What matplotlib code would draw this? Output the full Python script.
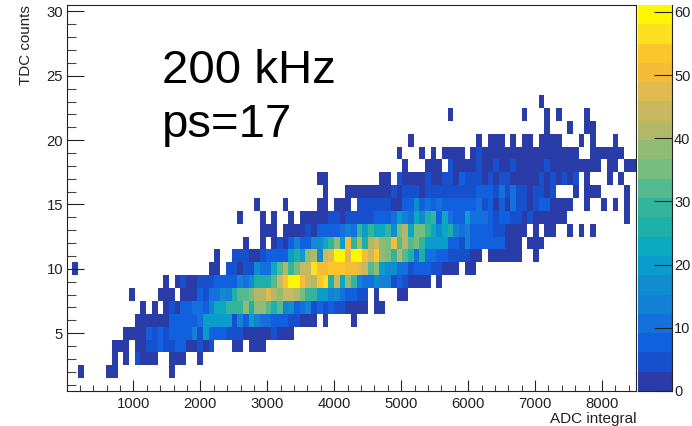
import numpy as np
import matplotlib
matplotlib.use("Agg")
import matplotlib.pyplot as plt
from matplotlib.colors import ListedColormap, BoundaryNorm
from matplotlib.ticker import MultipleLocator

plt.rcParams['font.family'] = ['Liberation Sans', 'DejaVu Sans']

# Histogram settings
n_x_bins = 100
x_min, x_max = 0, 8500
y_min, y_max = 0.5, 30.5
z_max = 61.1
n_levels = 20

# Counts per TDC row: (first ADC bin, counts in consecutive bins)
row_2 = [(2, [1]), (7, [1, 1]), (18, [1])]
row_3 = [(8, [1, 0, 1, 0, 6, 2, 2, 2]), (18, [1, 1, 1, 0, 0, 1])]
row_4 = [(8, [1, 1, 1, 0, 2, 2, 5, 5, 7, 5, 5, 8, 7, 2, 2, 5, 2, 5]), (29, [2, 2, 0, 2, 2, 2])]
row_5 = [(10, [2, 2, 2, 2, 7, 5, 7, 5, 7, 7, 7, 7, 13, 6, 19, 9, 9, 7, 5, 5, 5,
               2, 2, 2, 2, 2, 4, 2, 2, 2])]
row_6 = [(12, [2, 2, 2, 2, 2, 2, 9, 9, 7, 9, 9, 11, 19, 19, 19, 20, 20, 6, 14, 8, 20, 15,
               10, 10, 7, 7, 7, 5, 5, 2, 2, 2, 0, 2]), (50, [2])]
row_7 = [(13, [1, 0, 1, 0, 1, 4, 2, 7, 9, 11, 11, 9, 14, 24, 24, 29, 29, 29, 37, 26, 37, 37,
               33, 26, 33, 13, 17, 9, 11, 14, 5, 7, 5, 7, 4, 5, 2, 2, 2, 2, 0, 2, 2])]
row_8 = [(11, [1]), (16, [2, 2, 2, 0, 2, 2, 2, 7, 4, 10, 10, 17, 14, 25, 33, 33, 34, 42, 42, 47,
                          42, 38, 43, 43, 42, 34, 30, 29, 19, 19, 14, 18, 11, 7, 7, 5, 5, 0, 2]),
         (58, [2, 2])]
row_9 = [(17, [1, 0, 2, 4, 2, 2, 4, 4, 4, 8, 7, 7, 8, 13, 10, 17, 25, 25, 25, 32, 43, 52, 60,
               60, 50, 44, 42, 53, 56, 26, 45, 24, 38, 28, 14, 11, 11, 17, 15, 13, 6, 7, 4,
               2, 2, 2, 2, 0, 2])]
row_10 = [(1, [2]), (25, [2, 2, 0, 4, 4, 2, 6, 5, 18, 12, 12, 24, 33, 40, 28, 36, 44, 44, 58, 50,
                          50, 53, 54, 54, 50, 50, 46, 44, 33, 39, 19, 17, 17, 12, 12, 5, 8, 7, 7,
                          5, 5, 2, 2, 2, 0, 2, 2])]
row_11 = [(26, [2, 0, 0, 4, 4, 4, 2, 2, 4, 9, 8, 9, 8, 21, 27, 19, 37, 42, 18, 44, 46, 59, 59, 47,
                61, 61, 50, 43, 52, 39, 34, 30, 40, 33, 27, 12, 27, 12, 10, 8, 8, 5, 5, 5, 5,
                2, 2, 0, 2, 2, 2, 2, 2, 2]), (82, [2])]
row_12 = [(31, [2, 0, 0, 2, 0, 2, 4, 2, 8, 14, 7, 9, 17, 17, 22, 28, 37, 21, 49, 28, 40, 27, 41,
                45, 38, 36, 49, 33, 42, 31, 35, 29, 21, 21, 21, 20, 8, 8, 5, 14, 7, 7, 7, 7, 7, 7,
                2, 2, 2]), (81, [2, 2, 2])]
row_13 = [(34, [2, 2, 2, 0, 2, 2, 3, 2, 5, 2, 7, 7, 8, 7, 12, 13, 12, 28, 20, 30, 22, 22, 30, 17,
                34, 42, 24, 35, 35, 30, 22, 17, 22, 25, 15, 12, 14, 7, 7, 7, 7, 4, 4, 2, 2, 2, 2,
                0, 2, 0, 2, 2, 0, 0, 2, 0, 2, 0, 2])]
row_14 = [(30, [2]), (34, [2, 0, 2, 0, 0, 2, 0, 2, 2, 2, 2, 2, 4, 4, 2, 5, 4, 4, 6, 6, 9, 9, 9, 11,
                           21, 14, 11, 22, 18, 25, 30, 7, 24, 12, 9, 9, 20, 10, 11, 11, 7, 4, 7, 7,
                           5, 5, 2, 4, 2, 2, 2, 2, 2, 2]), (98, [2])]
row_15 = [(33, [1]), (38, [1]), (44, [2, 2, 0, 2, 2, 2, 0, 4, 4, 4, 4, 6, 6, 2, 2, 9, 9, 16, 7, 10,
                                      9, 11, 7, 9, 7, 9, 7, 7, 12, 5, 7, 2, 9, 2, 10, 5, 5, 2, 5,
                                      7, 7, 2, 2, 2, 2]), (91, [2]), (94, [2]), (96, [2]), (98, [2])]
row_16 = [(45, [2]), (49, [2, 2, 2, 2, 2, 2, 2, 2, 4, 2, 4, 4, 4, 2, 6, 4, 4, 6, 6, 6, 6, 6, 6, 9,
                           9, 9, 5, 10, 5, 10, 5, 5, 2, 4, 4, 2, 4]), (89, [2, 0, 2, 2, 2]), (98, [2])]
row_17 = [(44, [2, 2]), (55, [2, 2, 0, 4, 2, 2, 2, 2, 4, 2, 2, 4, 4, 2, 8, 4, 5, 5, 2, 5, 2, 4, 4,
                              2, 2, 2, 2, 2, 4, 2, 5, 2, 4, 2, 5, 0, 2]), (95, [2, 0, 2])]
row_18 = [(59, [2]), (63, [2, 2, 2, 0, 4, 2, 2, 2, 2, 4, 2, 2, 4, 2, 2, 4, 2, 2, 2, 2, 2, 4,
                           2, 2, 2, 2, 2, 2, 2, 2, 2]), (95, [2, 2, 0, 2, 2])]
row_19 = [(58, [2]), (62, [2, 0, 2, 0, 2, 2, 2, 2, 0, 2, 4] + [2] * 17), (92, [2, 2, 2, 2, 2, 2])]
row_20 = [(60, [2]), (72, [2, 0, 2, 2, 2, 0, 2, 0, 2, 2, 0, 2, 2, 2, 2]), (90, [2, 0, 2]), (96, [2])]
row_21 = [(84, [2]), (88, [2]), (91, [2, 2])]
row_22 = [(67, [2]), (80, [2]), (84, [2, 0, 2]), (91, [2])]
row_23 = [(83, [2])]
rows = {2: row_2, 3: row_3, 4: row_4, 5: row_5, 6: row_6, 7: row_7, 8: row_8, 9: row_9,
        10: row_10, 11: row_11, 12: row_12, 13: row_13, 14: row_14, 15: row_15, 16: row_16,
        17: row_17, 18: row_18, 19: row_19, 20: row_20, 21: row_21, 22: row_22, 23: row_23}

# Palette bands, low to high
band_colors = ['#2a3ca8', '#1650cc', '#1060e0', '#1470dc', '#1480d6', '#0e8ccf', '#0a9dcb',
               '#0ca8c0', '#1dafa8', '#32b59c', '#55b98f', '#78bd80', '#90bb75', '#b2b868',
               '#c8b860', '#e0ba50', '#f5bc3a', '#fcc52c', '#fde020', '#fff700']

x_ticks = list(range(1000, 9000, 1000))
y_ticks = list(range(5, 35, 5))
z_ticks = list(range(0, 70, 10))

n_y_bins = int(y_max - y_min)
grid = np.zeros((n_y_bins, n_x_bins))
for y, runs in rows.items():
    for first, values in runs:
        grid[int(y - 1), first:first + len(values)] = values
masked = np.ma.masked_equal(grid, 0)

W, H = 692, 426
fig = plt.figure(figsize=(W / 100, H / 100), dpi=100, facecolor='white')
L, R, T, B = 66.5, 635.5, 5, 391
ax = fig.add_axes([L / W, 1 - B / H, (R - L) / W, (B - T) / H])

levels = np.linspace(0, z_max, n_levels + 1)
cmap = ListedColormap(band_colors)
norm = BoundaryNorm(levels, cmap.N)
x_edges = np.linspace(x_min, x_max, n_x_bins + 1)
y_edges = np.linspace(y_min, y_max, n_y_bins + 1)
ax.pcolormesh(x_edges, y_edges, masked, cmap=cmap, norm=norm, antialiased=False, linewidth=0)
ax.set_xlim(x_min, x_max)
ax.set_ylim(y_min, y_max)

ink = '#222222'
ax.xaxis.set_major_locator(plt.FixedLocator(x_ticks))
ax.xaxis.set_minor_locator(MultipleLocator(200))
ax.yaxis.set_major_locator(plt.FixedLocator(y_ticks))
ax.yaxis.set_minor_locator(MultipleLocator(1))
ax.tick_params(axis='x', which='major', direction='in', length=8, width=0.8, color=ink,
               labelsize=10.7, labelcolor=ink, pad=4)
ax.tick_params(axis='x', which='minor', direction='in', length=4, width=0.8, color='#444444')
ax.tick_params(axis='y', which='major', direction='in', length=12.5, width=0.8, color=ink,
               labelsize=10.7, labelcolor=ink, pad=2.5)
ax.tick_params(axis='y', which='minor', direction='in', length=6.5, width=0.8, color='#444444')
for s in ax.spines.values():
    s.set_linewidth(0.8)
    s.set_color(ink)

# Palette axis
cax = fig.add_axes([637.7 / W, 1 - B / H, (671.7 - 637.7) / W, (B - T) / H])
cax.pcolormesh([0, 1], levels, (levels[:-1] + levels[1:]).reshape(-1, 1) / 2, cmap=cmap, norm=norm,
               antialiased=False, linewidth=0)
cax.set_xlim(0, 1)
cax.set_ylim(0, z_max)
cax.xaxis.set_visible(False)
cax.yaxis.tick_right()
cax.set_yticks(z_ticks)
cax.tick_params(axis='y', which='major', direction='in', length=13, width=0.8, color=ink,
                labelsize=10.5, labelcolor=ink, pad=1.7)
for side in ('left', 'top'):
    cax.spines[side].set_visible(False)
for side in ('right', 'bottom'):
    cax.spines[side].set_linewidth(0.8)
    cax.spines[side].set_color(ink)

fig.text(636 / W, 1 - 419 / H, 'ADC integral', ha='right', va='center', fontsize=11, color=ink)
fig.text(26 / W, 1 - 5 / H, 'TDC counts', ha='center', va='top', rotation=90, fontsize=10.9, color=ink)
fig.text(162 / W, 1 - 83 / H, '200 kHz', ha='left', va='baseline', fontsize=34.1, color='black')
fig.text(162 / W, 1 - 137 / H, 'ps=17', ha='left', va='baseline', fontsize=34.1, color='black')

fig.savefig('out.png', dpi=100)
